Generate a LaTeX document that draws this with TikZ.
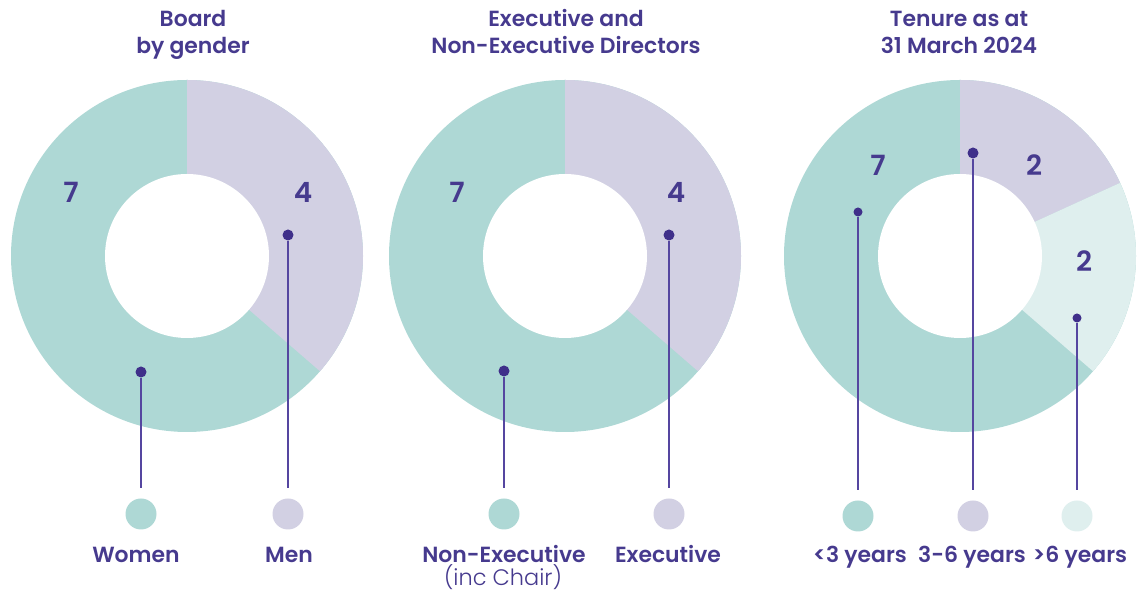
\documentclass[tikz,border=0pt]{standalone}
\usepackage{fontspec}
\setmainfont{Poppins}[UprightFont=* SemiBold, BoldFont=* Bold]
\newfontfamily\lightfont{Poppins}[UprightFont=* Light]
\definecolor{tealc}{HTML}{AED8D5}
\definecolor{lavc}{HTML}{D2D0E3}
\definecolor{lightc}{HTML}{DFEFEE}
\definecolor{ink}{HTML}{463A8E}
\definecolor{dotink}{HTML}{3F2F8A}
\definecolor{lineink}{HTML}{5546A0}
\begin{document}
\begin{tikzpicture}[x=1bp,y=1bp,
  dotm/.style={circle,fill=dotink,inner sep=0pt,minimum size=11bp},
  dots/.style={circle,fill=dotink,inner sep=0pt,minimum size=9bp},
  leg/.style={circle,inner sep=0pt,minimum size=31bp},
  conn/.style={draw=lineink,line width=1.6bp,shorten >=10.5bp},
  ttl/.style={font=\fontsize{22}{26}\selectfont,text=ink,anchor=base,inner sep=0pt},
  num/.style={font=\fontsize{28}{32}\selectfont,text=ink,anchor=base,inner sep=0pt},
  lbl/.style={font=\fontsize{22}{26}\selectfont,text=ink,anchor=base,inner sep=0pt}]
\useasboundingbox (0,0) rectangle (1140,597);

% ---------- Donut 1 ----------
\coordinate (c1) at (187,341);
\fill[tealc] (c1) circle[radius=176];
\fill[lavc] (c1) -- ++(90:176) arc[start angle=90,end angle=-40.909,radius=176] -- cycle;
\fill[white] (c1) circle[radius=82];
\node[ttl] (t1a) at (193,570) {Board};
\node[ttl] (t1b) at (193,543) {by gender};
\node[num] (n1a) at (71,394) {7};
\node[num] (n1b) at (303,394) {4};
\node[leg,fill=tealc] (l1a) at (141,83) {};
\node[leg,fill=lavc] (l1b) at (288,83) {};
\node[dotm] (d1a) at (141,225) {};
\node[dotm] (d1b) at (288,362) {};
\draw[conn] (d1a) -- (l1a);
\draw[conn] (d1b) -- (l1b);
\node[lbl] (w1a) at (136,34) {Women};
\node[lbl] (w1b) at (289,34) {Men};

% ---------- Donut 2 ----------
\coordinate (c2) at (565,341);
\fill[tealc] (c2) circle[radius=176];
\fill[lavc] (c2) -- ++(90:176) arc[start angle=90,end angle=-40.909,radius=176] -- cycle;
\fill[white] (c2) circle[radius=82];
\node[ttl] (t2a) at (566,570) {Executive and};
\node[ttl] (t2b) at (566,543) {Non-Executive Directors};
\node[num] (n2a) at (457,394) {7};
\node[num] (n2b) at (676,394) {4};
\node[leg,fill=tealc] (l2a) at (504,83) {};
\node[leg,fill=lavc] (l2b) at (669,83) {};
\node[dotm] (d2a) at (504,226) {};
\node[dotm] (d2b) at (669,362) {};
\draw[conn] (d2a) -- (l2a);
\draw[conn] (d2b) -- (l2b);
\node[lbl] (w2a) at (504,34) {Non-Executive};
\node[lbl,font=\fontsize{22.5}{26}\lightfont] (w2c) at (503,11) {(inc Chair)};
\node[lbl] (w2b) at (668,34) {Executive};

% ---------- Donut 3 ----------
\coordinate (c3) at (960,341);
\fill[tealc] (c3) circle[radius=176];
\fill[lavc] (c3) -- ++(90:176) arc[start angle=90,end angle=24.545,radius=176] -- cycle;
\fill[lightc] (c3) -- ++(24.545:176) arc[start angle=24.545,end angle=-40.909,radius=176] -- cycle;
\fill[white] (c3) circle[radius=82];
\node[ttl] (t3a) at (959,570) {Tenure as at};
\node[ttl] (t3b) at (959,543) {31 March 2024};
\node[num] (n3a) at (878,421) {7};
\node[num] (n3b) at (1034,421) {2};
\node[num] (n3c) at (1084,325) {2};
\node[leg,fill=tealc] (l3a) at (858,81) {};
\node[leg,fill=lavc] (l3b) at (973,81) {};
\node[leg,fill=lightc] (l3c) at (1077,81) {};
\node[dots] (d3a) at (858,385) {};
\node[dotm] (d3b) at (973,444) {};
\node[dots] (d3c) at (1077,279) {};
\draw[conn] (d3a) -- (l3a);
\draw[conn] (d3b) -- (l3b);
\draw[conn] (d3c) -- (l3c);
\node[lbl] (w3a) at (860,34) {<3 years};
\node[lbl] (w3b) at (972,34) {3-6 years};
\node[lbl] (w3c) at (1080,34) {>6 years};
\end{tikzpicture}
\end{document}
